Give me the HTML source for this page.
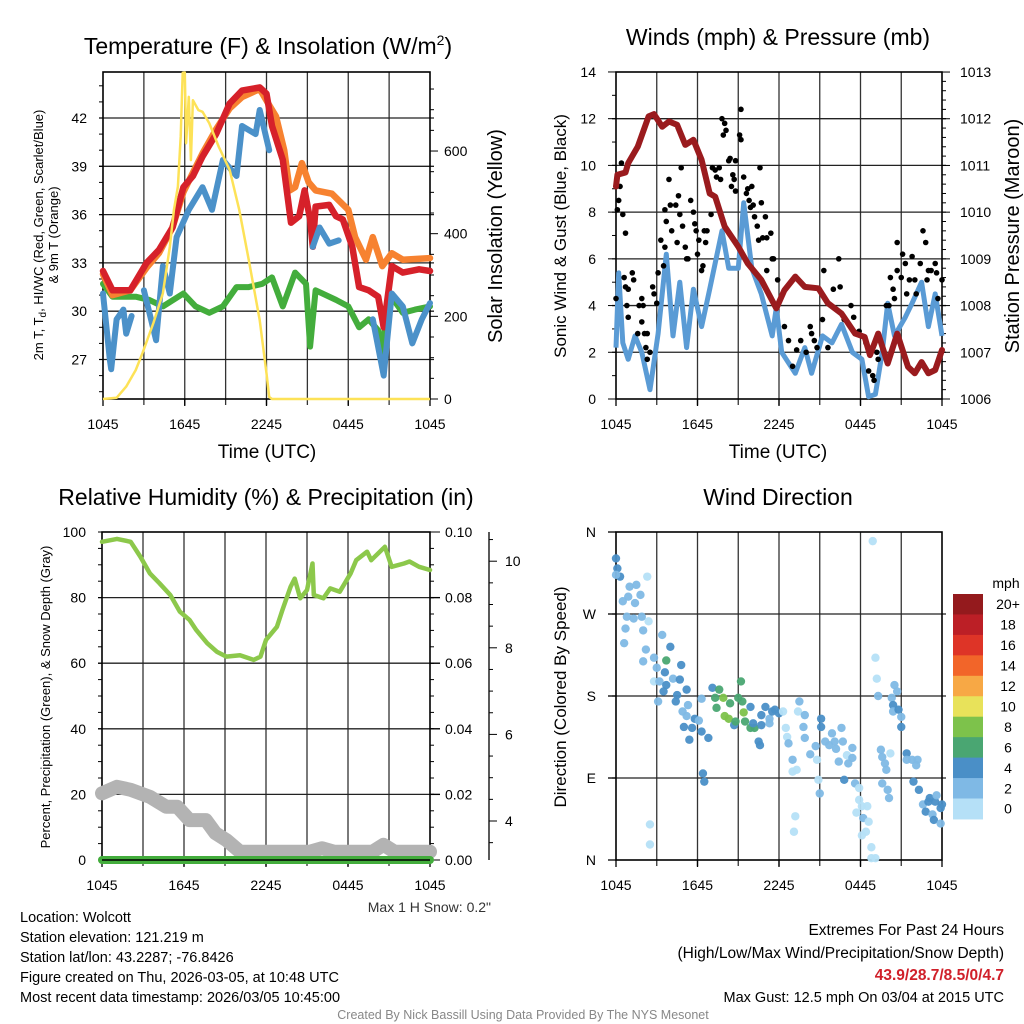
<!DOCTYPE html>
<html><head><meta charset="utf-8"><title>Wolcott Meteogram</title>
<style>
html,body{margin:0;padding:0;background:#fff;}
svg{display:block;font-family:"Liberation Sans",Arial,sans-serif;}
</style></head>
<body>
<svg id="chart" width="1024" height="1024" viewBox="0 0 1024 1024" xmlns="http://www.w3.org/2000/svg">
<rect x="0" y="0" width="1024" height="1024" fill="#fff"/>
</svg>
<script>
// ---------------- DATA ----------------
// Panel 1: temperatures (hours since 1045 UTC, deg F)
const tempT = [0,0.7,2,3.2,4.1,5.1,5.9,6.6,7.3,8.3,9.3,10.2,11.5,12,12.4,13.2,13.8,14.4,14.8,15.2,15.4,15.6,16.6,17.1,17.6,18.3,18.8,19.5,20.2,20.6,21.2,22,23.2,24];
const tempV = [32.5,31.3,31.3,33.0,33.8,35.2,37.7,38.4,39.6,41.0,42.9,43.7,43.9,43.5,41.5,39.4,35.5,35.9,37.5,35.7,34.0,36.5,36.6,35.9,35.7,34.0,31.5,31.3,30.9,29.0,32.8,32.4,32.6,32.5];
const t9mT = [0,0.7,2,3.2,4.1,5.1,5.9,6.6,7.3,8.3,9.3,10.2,11.5,12.2,12.7,13.3,13.7,14.1,14.6,15.1,15.6,16.8,18,18.5,19.3,19.8,20.5,21.2,22,24];
const t9mV = [32.3,31.0,31.3,32.7,33.6,35.2,37.4,38.6,39.8,41.3,42.6,43.3,43.8,42.8,42.1,40.0,37.5,37.7,39.2,38.0,37.5,37.3,36.3,34.6,33.2,34.6,32.8,33.6,33.2,33.3];
const wcT = [0,0.5,0.6,1.0,1.5,1.7,2.1,null,3.0,3.9,4.4,4.9,5.4,6.3,7.3,8.0,8.8,9.8,10.2,11.2,11.5,12.2,null,15.4,15.9,16.6,17.3,null,19.8,20.6,21.2,22,22.7,23.4,24];
const wcV = [31.1,27.0,26.4,29.5,30.1,28.6,29.7,null,31.3,28.2,32.8,31.1,34.6,36.3,37.7,36.3,39.4,38.4,41.5,41.0,42.5,40.0,null,34.0,35.2,34.2,34.4,null,29.5,26.0,31.1,30.3,28.0,29.5,30.5];
const dewT = [0,0.7,2.4,3.4,4.4,5.9,6.8,7.8,8.8,9.8,10.7,11.7,12.4,13.2,14.1,14.9,15.2,15.6,17.1,18,18.8,19.5,20.2,20.4,21,22,22.9,24];
const dewV = [31.7,30.9,30.9,30.7,30.3,31.1,30.3,29.9,30.3,31.5,31.5,31.7,32.1,30.3,32.4,31.7,27.8,31.3,30.7,30.3,29.0,29.5,28.8,27.0,31.1,29.9,30.1,30.3];
const solT = [0,1,1.7,2.4,2.9,3.7,4.4,4.9,5.2,5.5,5.7,5.85,6.0,6.1,6.3,6.45,6.6,7.0,7.3,7.8,8.5,9.3,10,10.7,11.5,12,12.2,12.4,24];
const solV = [0,3,30,70,111,184,256,368,457,514,635,789,790,619,731,578,723,699,695,667,610,554,457,336,191,62,5,0,0];
const p1TempTicks = [27,30,33,36,39,42];
const p1SolTicks = [0,200,400,600];
const timeLabels = ["1045","1645","2245","0445","1045"];

// Panel 2: wind, gust, pressure
const windT = [0,0.2,0.5,0.9,1.4,1.9,2.5,3.1,3.7,4.2,4.7,5.2,5.7,6.3,6.9,7.8,8.3,9.0,9.4,10.0,10.7,11.5,11.8,12.2,13.2,13.9,14.4,15.2,15.9,16.6,17.4,18.1,18.6,19.1,19.6,20.0,20.5,21.3,21.8,22.5,23.0,23.5,24];
const windV = [2.2,5.4,2.4,1.7,2.7,2.0,0.4,2.8,6.2,2.7,5.0,2.2,4.7,3.1,4.7,7.2,5.6,5.6,8.4,5.6,4.5,2.7,3.9,2.0,1.1,2.2,1.1,2.7,2.4,3.2,2.0,1.7,0.1,0.2,2.0,4.1,2.7,3.5,4.1,5.0,3.1,4.5,2.7];
const gustT = [0,0.1,0.2,0.3,0.4,0.5,0.7,0.6,0.7,0.9,1.2,1.3,0.8,0.9,1.7,1.9,2.0,1.9,1.6,2.1,2.3,2.2,2.5,2.3,2.7,2.8,3.0,3.1,3.3,3.5,3.6,3.7,3.6,3.9,4.0,4.1,4.4,4.5,4.6,4.7,4.8,4.9,5.1,5.2,5.3,5.5,5.7,5.8,5.9,6.0,6.1,6.3,6.4,6.5,6.7,6.6,7.0,7.1,7.3,7.4,7.6,7.7,7.8,7.9,8.0,8.1,8.3,8.4,8.5,8.6,8.7,8.8,8.8,9.1,9.2,9.2,9.4,9.6,9.7,9.8,9.9,10.0,10.1,10.2,10.4,10.5,10.6,10.7,10.8,11.0,11.1,11.4,11.5,11.6,11.1,11.9,12.4,12.7,13.0,13.3,13.6,14.0,14.3,14.4,14.6,14.8,15.2,15.3,15.6,16.0,16.4,16.5,16.8,17.3,17.5,17.9,18.1,18.4,18.6,18.9,19.0,19.2,19.3,19.9,20.1,20.2,20.4,20.5,20.7,20.7,21.0,21.1,21.3,21.4,21.6,21.8,22.0,22.1,22.4,22.6,22.8,22.9,23.0,23.2,23.5,23.6,23.7,24];
const gustV = [4.3,8.1,8.5,9.1,10.1,7.9,7.1,5.2,4.8,4.7,5.4,5.1,4.0,3.5,4.0,4.3,4.0,3.3,2.8,2.8,2.8,2.2,2.0,1.7,4.8,4.5,4.1,5.4,6.8,5.7,8.1,7.6,6.5,9.4,8.3,7.2,8.3,6.7,8.7,7.9,9.9,7.4,6.5,6.0,6.0,8.5,8.0,7.5,7.2,6.2,6.8,5.5,5.7,7.2,7.2,6.7,7.9,9.9,9.8,9.5,9.9,9.4,12.0,11.3,11.8,11.5,10.2,10.3,9.1,9.6,9.4,8.9,10.2,11.3,11.1,12.4,9.5,8.8,9.0,8.5,8.2,9.1,8.3,7.8,7.4,6.8,9.9,8.4,6.9,7.8,6.9,7.1,6.0,6.0,5.5,5.1,3.1,2.5,1.4,2.1,2.5,2.0,3.1,2.8,2.5,2.2,3.4,5.5,2.2,4.7,6.0,4.8,3.4,4.0,3.5,2.9,2.7,2.4,1.2,1.0,0.8,2.0,1.7,4.0,4.0,5.2,4.7,4.3,6.7,5.5,5.2,6.2,5.8,4.5,5.1,6.1,5.1,4.5,5.8,7.2,6.7,5.1,5.5,5.5,5.8,5.4,4.3,5.1];
const presT = [0,0.1,0.7,0.9,1.6,2.4,2.8,3.4,3.9,4.5,5.1,5.7,6.3,6.9,7.3,8.0,9.0,9.7,10.7,11.8,12.4,13.2,13.9,14.9,15.6,16.6,17.6,18.3,18.7,19.3,20.0,20.7,21.5,22.0,22.5,23.0,23.5,24];
const presV = [1010.55,1010.8,1010.85,1011.05,1011.4,1012.05,1012.1,1011.83,1011.94,1011.87,1011.44,1011.55,1011.12,1010.4,1010.33,1009.69,1009.26,1008.9,1008.55,1007.94,1008.33,1008.62,1008.4,1008.37,1008.05,1007.83,1007.4,1007.33,1006.94,1007.4,1006.76,1007.4,1006.69,1006.55,1006.79,1006.55,1006.62,1007.05];
const p2WindTicks = [0,2,4,6,8,10,12,14];
const p2PresTicks = [1006,1007,1008,1009,1010,1011,1012,1013];

// Panel 3: RH, snow depth, precipitation
const rhT = [0,1.1,2.1,2.8,3.5,4.2,5.0,5.7,6.4,6.9,7.7,8.4,9.1,10.1,11.1,11.6,12.0,12.8,13.2,13.8,14.1,14.5,15.0,15.4,15.5,16.2,16.7,17.4,18.2,18.6,19.4,19.7,20.7,21.2,22.1,22.5,23.2,24];
const rhV = [97.0,97.9,97.0,92.5,87.4,84.4,80.8,75.7,73.2,70.1,66.1,63.5,62.0,62.4,61.0,62.0,67.1,71.1,76.2,83.3,85.8,79.8,82.3,90.4,80.8,79.8,82.8,81.8,87.4,91.4,94.0,91.4,95.5,89.4,90.4,91.0,89.4,88.4];
const snowT = [0,1.1,2.1,3.5,4.7,5.5,6.4,7.6,8.3,9.1,10.1,15.2,16.1,17.0,19.8,20.6,21.4,24];
const snowV = [4.64,4.79,4.72,4.56,4.33,4.33,4.02,4.02,3.72,3.56,3.29,3.29,3.37,3.29,3.29,3.45,3.29,3.29];
const precipT = [0,24];
const precipV = [0,0];
const p3RhTicks = [0,20,40,60,80,100];
const p3PrecipTicks = ["0.00","0.02","0.04","0.06","0.08","0.10"];
const p3SnowTicks = [4,6,8,10];

// Panel 4: wind direction (hours, degrees, mph)
const dirT = [0,0.1,0.3,0,1,1.5,1.8,0.9,0.5,1.4,2.3,0.8,1.3,1.9,2.4,0.7,2.0,0.6,2.2,3.4,4.0,2.0,2.8,3.7,3.0,3.6,4.8,2.8,3.2,3.7,4.2,4.7,5.2,3.5,3.1,4.5,4.4,5.3,4.9,5.2,5.8,6.1,5.0,5.6,6.3,5.4,6.8,6.3,7.1,7.3,7.6,7.9,7.4,8.4,8.0,8.3,9.0,9.3,9.2,8.7,9.4,9.5,9.9,10.2,8.8,9.9,10.1,10.7,10.7,11.0,11.3,11.3,11.7,12.0,12.3,11.5,10.5,10.6,12.5,12.6,12.7,13.0,13.0,13.3,13.4,13.5,13.9,13.8,13.9,14.3,14.7,14.8,14.9,15.0,15.1,15.1,15.4,15.7,15.9,16.1,16.2,16.4,16.7,16.6,16.8,17.0,17.1,17.4,17.4,17.6,17.9,17.9,18.1,17.7,18.2,18.5,18.4,18.1,18.6,18.8,18.8,19.1,18.9,19.1,19.2,19.3,19.5,19.6,19.8,19.9,19.6,20.0,20.1,20.2,20.3,20.4,20.5,20.7,20.4,20.8,21.0,21.0,21.4,21.4,21.8,22.2,22.1,21.9,22.3,22.6,23.0,23.1,22.8,23.3,23.4,23.5,23.6,23.9,24,23.9,2.5,2.5,6.4,6.5,13.2,13.1];
const dirV = [331,320,311,313,300,302,291,289,284,282,311,267,265,267,262,254,252,238,231,247,234,218,222,219,211,206,214,196,196,192,199,198,187,185,174,181,174,170,163,158,155,153,146,145,141,132,134,177,189,178,187,178,167,172,158,155,178,174,196,148,162,152,145,145,152,168,150,159,148,168,150,155,165,161,163,163,130,126,145,135,128,110,97,99,163,174,159,146,134,116,125,110,88,73,155,146,130,126,139,130,122,108,130,145,88,115,106,112,123,84,79,66,59,52,46,59,31,27,42,14,2,2,350,222,199,180,121,113,106,99,84,77,68,117,178,170,192,185,163,165,157,146,117,110,110,110,104,86,77,61,64,68,53,50,44,64,71,40,61,57,39,17,95,86,48,31];
const dirSpd = [5,5,5,3,3,3,3,3,3,3,1,3,3,3,1,3,3,3,3,3,5,3,3,7,3,5,5,1,3,5,3,5,5,5,3,5,5,3,3,3,5,3,5,5,5,5,5,3,5,7,7,9,7,7,9,9,7,7,7,5,9,7,7,7,7,5,5,5,5,5,3,3,5,5,1,5,5,5,1,1,3,3,1,1,1,3,3,3,3,3,3,1,1,3,5,5,3,3,3,3,3,3,3,3,5,1,3,3,3,3,1,1,1,1,3,1,1,1,1,1,1,1,1,1,1,3,3,3,3,3,3,3,3,1,3,5,3,3,3,5,3,5,5,3,3,3,3,5,5,3,5,5,5,3,5,5,3,3,5,5,1,1,5,5,1,1];
const dirLabels = ["N","E","S","W","N"];
const speedBins = ["0","2","4","6","8","10","12","14","16","18","20+"];
const speedColors = ["#b5e0f7","#7fb9e5","#4a8fc7","#4aa672","#7dc24b","#e8e25a","#f7a845","#f26529","#de3427","#bc1f26","#941a1d"];

// ---------------- HELPERS ----------------
const NS = "http://www.w3.org/2000/svg";
const svg = document.getElementById("chart");
function mk(tag, attrs, parent){
  const e = document.createElementNS(NS, tag);
  for (const k in attrs) e.setAttribute(k, attrs[k]);
  (parent || svg).appendChild(e);
  return e;
}
function txt(s, x, y, size, anchor, parent, extra){
  const a = {x:x, y:y, "font-size":size, "text-anchor":anchor || "middle", fill:"#000"};
  if (extra) for (const k in extra) a[k] = extra[k];
  const e = mk("text", a, parent);
  e.textContent = s;
  return e;
}
function pathD(ts, vs, fx, fy){
  let d = "", pen = false;
  for (let i = 0; i < ts.length; i++){
    if (ts[i] === null || vs[i] === null){ pen = false; continue; }
    d += (pen ? "L" : "M") + fx(ts[i]).toFixed(1) + "," + fy(vs[i]).toFixed(1);
    pen = true;
  }
  return d;
}
function makeX(L, R){ return t => L + t / 24 * (R - L); }

function panelFrame(g, L, R, T, B, hLines, name){
  const fx = makeX(L, R);
  for (let h = 3; h < 24; h += 3){
    const ln = mk("line", {x1:fx(h), x2:fx(h), y1:T, y2:B+6, stroke:"#333", "stroke-width":1.3}, g);
    
    
  }
  hLines.forEach(y => {
    const ln = mk("line", {x1:L-4, x2:R+4, y1:y, y2:y, stroke:"#222", "stroke-width":1.3}, g);
    
    
  });
  const fr = mk("rect", {x:L, y:T, width:R-L, height:B-T, fill:"none", stroke:"#000", "stroke-width":1.6}, g);
  
  
  for (let i = 0; i < 5; i++){
    const lab = txt(timeLabels[i], fx(i*6), B + 30, 14, "middle", g);
    
    
  }
  for (let h = 0; h <= 24; h += 6){
    const tk = mk("line", {x1:fx(h), x2:fx(h), y1:B, y2:B+7, stroke:"#000", "stroke-width":1.3}, g);
    
    
  }
}

// ---------------- PANEL 1 ----------------
(function(){
  const L=103, R=430, T=72, B=399;
  const fx = makeX(L, R);
  const fyT = v => 118 + (42 - v) * 16.1;
  const fyS = v => 399 - v * 0.4133;
  const g = mk("g", {});
  
  
  panelFrame(g, L, R, T, B, p1TempTicks.map(fyT), 'temperature-panel');
  for (let v = 25; v <= 44; v++){
    const tk = mk("line", {x1:L-4, x2:L, y1:fyT(v), y2:fyT(v), stroke:"#000", "stroke-width":1}, g);
    
    
  }
  p1TempTicks.forEach(v => {
    const l = txt(String(v), L - 16, fyT(v) + 5, 14, "end", g);
    
    
  });
  for (let v = 0; v <= 750; v += 50){
    const tk = mk("line", {x1:R, x2:R + (v % 200 === 0 ? 8 : 4), y1:fyS(v), y2:fyS(v), stroke:"#000", "stroke-width":1}, g);
    
    
  }
  p1SolTicks.forEach(v => {
    const l = txt(String(v), R + 14, fyS(v) + 5, 14, "start", g);
    
    
  });
  const series = [
    [dewT, dewV, "#43ad3c", 6, 'dewpoint-line'],
    [t9mT, t9mV, "#f78230", 6.5, 'temp-9m-line'],
    [tempT, tempV, "#d6212a", 6.5, 'temp-2m-line'],
    [wcT, wcV, "#4b91c9", 6, 'wind-chill-line']
  ];
  series.forEach(s => {
    const p = mk("path", {d:pathD(s[0], s[1], fx, fyT), fill:"none", stroke:s[2], "stroke-width":s[3], "stroke-linejoin":"round", "stroke-linecap":"round"}, g);
    
    
  });
  const sol = mk("path", {d:pathD(solT, solV, fx, fyS), fill:"none", stroke:"#fde257", "stroke-width":2.5, "stroke-linejoin":"round"}, g);
  
  
  const title = mk("text", {x:268, y:54, "font-size":23, "text-anchor":"middle"}, g);
  title.innerHTML = 'Temperature (F) &amp; Insolation (W/m<tspan dy="-9" font-size="14">2</tspan><tspan dy="9">)</tspan>';
  
  
  const xt = txt("Time (UTC)", 267, 458, 19, "middle", g);
  
  
  const yt = mk("text", {x:0, y:0, "font-size":13, "text-anchor":"middle", transform:"translate(43,235) rotate(-90)"}, g);
  yt.innerHTML = '2m T, T<tspan dy="3" font-size="10">d</tspan><tspan dy="-3">, HI/WC (Red, Green, Scarlet/Blue)</tspan>';
  
  
  const yt2 = txt("& 9m T (Orange)", 0, 0, 13, "middle", g, {transform:"translate(58,235) rotate(-90)"});
  
  
  const yr = txt("Solar Insolation (Yellow)", 0, 0, 20, "middle", g, {transform:"translate(502,236) rotate(-90)"});
  
  
})();

// ---------------- PANEL 2 ----------------
(function(){
  const L=616, R=942, T=72, B=399;
  const fx = makeX(L, R);
  const fyW = v => 399 - v * 23.36;
  const fyP = v => 399 - (v - 1006) * 46.71;
  const g = mk("g", {});
  
  
  panelFrame(g, L, R, T, B, [2,4,6,8,10,12].map(fyW), 'wind-panel');
  for (let v = 0; v <= 14; v++){
    const tk = mk("line", {x1:L - (v % 2 === 0 ? 8 : 4), x2:L, y1:fyW(v), y2:fyW(v), stroke:"#000", "stroke-width":1}, g);
    
    
  }
  p2WindTicks.forEach(v => {
    const l = txt(String(v), L - 20, fyW(v) + 5, 14, "end", g);
    
    
  });
  for (let v = 1006; v <= 1013.001; v += 0.2){
    const major = Math.abs(v - Math.round(v)) < 0.01;
    const tk = mk("line", {x1:R, x2:R + (major ? 8 : 4), y1:fyP(v), y2:fyP(v), stroke:"#000", "stroke-width":1}, g);
    
    
  }
  p2PresTicks.forEach(v => {
    const l = txt(String(v), R + 18, fyP(v) + 5, 14, "start", g);
    
    
  });
  const w = mk("path", {d:pathD(windT, windV, fx, fyW), fill:"none", stroke:"#5a9bd5", "stroke-width":5, "stroke-linejoin":"round"}, g);
  
  
  for (let i = 0; i < gustT.length; i++){
    const c = mk("circle", {cx:fx(gustT[i]), cy:fyW(gustV[i]), r:2.8, fill:"#000"}, g);
    
    
  }
  const p = mk("path", {d:pathD(presT, presV, fx, fyP), fill:"none", stroke:"#9a1b1e", "stroke-width":6, "stroke-linejoin":"round", "stroke-linecap":"round"}, g);
  
  
  const title = txt("Winds (mph) & Pressure (mb)", 778, 45, 23, "middle", g);
  
  
  const xt = txt("Time (UTC)", 778, 458, 19, "middle", g);
  
  
  const yt = txt("Sonic Wind & Gust (Blue, Black)", 0, 0, 17, "middle", g, {transform:"translate(566,236) rotate(-90)"});
  
  
  const yr = txt("Station Pressure (Maroon)", 0, 0, 20, "middle", g, {transform:"translate(1019,236) rotate(-90)"});
  
  
})();

// ---------------- PANEL 3 ----------------
(function(){
  const L=102, R=430, T=532, B=860;
  const fx = makeX(L, R);
  const fyR = v => 860 - v * 3.28;
  const fyS = v => 821 - (v - 4) * 43.3;
  const fyPr = v => 860 - v * 3280;
  const g = mk("g", {});
  
  
  panelFrame(g, L, R, T, B, [20,40,60,80].map(fyR), 'humidity-panel');
  [20,40,60,80].forEach(v => {
    const ln = mk("line", {x1:R, x2:R+10, y1:fyR(v), y2:fyR(v), stroke:"#000", "stroke-width":1.3}, g);
    
    
  });
  for (let v = 0; v <= 100; v += 5){
    const tk = mk("line", {x1:L-4, x2:L, y1:fyR(v), y2:fyR(v), stroke:"#000", "stroke-width":1}, g);
    
    
    const tk2 = mk("line", {x1:R, x2:R + (v % 20 === 0 ? 10 : 4), y1:fyR(v), y2:fyR(v), stroke:"#000", "stroke-width":1}, g);
    
    
  }
  p3RhTicks.forEach(v => {
    const l = txt(String(v), L - 16, fyR(v) + 5, 14, "end", g);
    
    
  });
  p3PrecipTicks.forEach((s, i) => {
    const l = txt(s, R + 15, fyR(i * 20) + 5, 14, "start", g);
    
    
  });
  const sax = mk("line", {x1:489, x2:489, y1:532, y2:860, stroke:"#000", "stroke-width":1.3}, g);
  
  
  for (let v = 3.5; v <= 10.6; v += 0.5){
    const tk = mk("line", {x1:489, x2:489 + (Math.abs(v - Math.round(v)) < 0.01 && Math.round(v) % 2 === 0 ? 8 : 4), y1:fyS(v), y2:fyS(v), stroke:"#000", "stroke-width":1}, g);
    
    
  }
  p3SnowTicks.forEach(v => {
    const l = txt(String(v), 505, fyS(v) + 5, 14, "start", g);
    
    
  });
  const sn = mk("path", {d:pathD(snowT, snowV, fx, fyS), fill:"none", stroke:"#b3b3b3", "stroke-width":14, "stroke-linejoin":"round", "stroke-linecap":"round"}, g);
  
  
  const pr = mk("path", {d:pathD(precipT, precipV, fx, fyPr), fill:"none", stroke:"#43ad3c", "stroke-width":8, "stroke-linecap":"round"}, g);
  
  
  const bl = mk("line", {x1:L, x2:R, y1:B, y2:B, stroke:"#000", "stroke-width":1.5}, g);
  
  
  const rh = mk("path", {d:pathD(rhT, rhV, fx, fyR), fill:"none", stroke:"#8cc84b", "stroke-width":4.5, "stroke-linejoin":"round", "stroke-linecap":"round"}, g);
  
  
  const title = txt("Relative Humidity (%) & Precipitation (in)", 266, 505, 23, "middle", g);
  
  
  const yt = txt("Percent, Precipitation (Green), & Snow Depth (Gray)", 0, 0, 13, "middle", g, {transform:"translate(50,697) rotate(-90)"});
  
  
  const ms = txt('Max 1 H Snow: 0.2"', 491, 912, 14, "end", g, {fill:"#333"});
  
  
})();

// ---------------- PANEL 4 ----------------
(function(){
  const L=616, R=942, T=532, B=860;
  const fx = makeX(L, R);
  const fyD = v => 860 - v * 0.9111;
  const g = mk("g", {});
  
  
  panelFrame(g, L, R, T, B, [90,180,270].map(fyD), 'wind-direction-panel');
  dirLabels.forEach((s, i) => {
    const tk = mk("line", {x1:L-8, x2:L, y1:fyD(i*90), y2:fyD(i*90), stroke:"#000", "stroke-width":1.3}, g);
    
    
    const l = txt(s, L - 20, fyD(i*90) + 5, 14, "end", g);
    
    
  });
  for (let i = 0; i < dirT.length; i++){
    const bin = Math.min(10, Math.floor(dirSpd[i] / 2));
    const c = mk("circle", {cx:fx(dirT[i]), cy:fyD(dirV[i]), r:4.2, fill:speedColors[bin], "fill-opacity":0.95}, g);
    
    
  }
  const title = txt("Wind Direction", 778, 505, 23, "middle", g);
  
  
  const yt = txt("Direction (Colored By Speed)", 0, 0, 17, "middle", g, {transform:"translate(566,697) rotate(-90)"});
  
  
  // colorbar
  const cb = mk("g", {}, g);
  
  
  const top = 594, h = 20.45;
  for (let i = 0; i < 11; i++){
    const r = mk("rect", {x:953, y:top + i*h, width:30, height:h + 0.5, fill:speedColors[10 - i]}, cb);
    
    
  }
  for (let i = 0; i < 11; i++){
    const l = txt(speedBins[10 - i], 1008, top + i * h + h / 2 + 5, 14, "middle", cb);
    
    
  }
  const u = txt("mph", 1006, 588, 14, "middle", cb);
  
  
})();

// ---------------- FOOTER ----------------
(function(){
  const g = mk("g", {});
  
  
  const lines = ["Location: Wolcott","Station elevation: 121.219 m","Station lat/lon: 43.2287; -76.8426","Figure created on Thu, 2026-03-05, at 10:48 UTC","Most recent data timestamp: 2026/03/05 10:45:00"];
  lines.forEach((s, i) => {
    const t = txt(s, 20, 922 + i * 20, 14.5, "start", g);
    
    
  });
  const e1 = txt("Extremes For Past 24 Hours", 1004, 935, 15.5, "end", g);
  
  
  const e2 = txt("(High/Low/Max Wind/Precipitation/Snow Depth)", 1004, 958, 15.5, "end", g);
  
  
  const e3 = txt("43.9/28.7/8.5/0/4.7", 1004, 980, 15.5, "end", g, {fill:"#d0202a", "font-weight":"bold"});
  
  
  const e4 = txt("Max Gust: 12.5 mph On 03/04 at 2015 UTC", 1004, 1002, 14.5, "end", g);
  
  
  const cr = txt("Created By Nick Bassill Using Data Provided By The NYS Mesonet", 523, 1019, 12.5, "middle", g, {fill:"#888"});
  
  
})();
</script>
</body></html>
